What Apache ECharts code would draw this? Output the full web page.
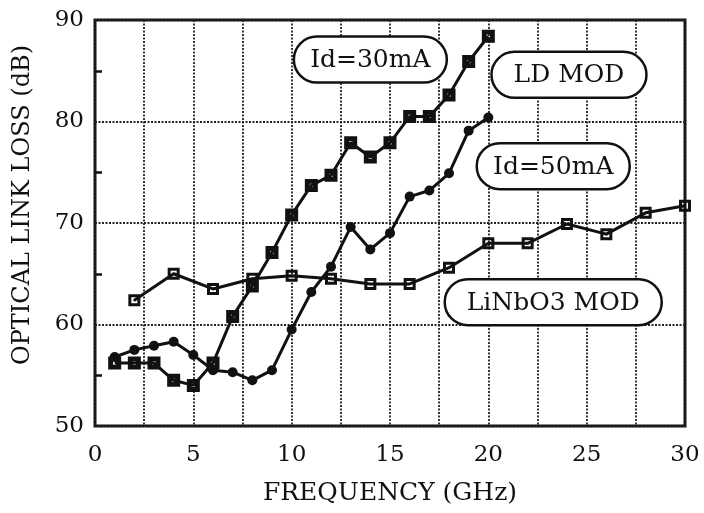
<!DOCTYPE html>
<html>
<head>
<meta charset="utf-8">
<script src="https://cdn.jsdelivr.net/npm/echarts@6/dist/echarts.min.js"></script>
<style>
  html, body { margin: 0; padding: 0; background: #fff; }
  #chart { width: 704px; height: 513px; }
</style>
</head>
<body>
<div id="chart"></div>
<script>
// Optical link loss versus modulation frequency
const freqLD = [1, 2, 3, 4, 5, 6, 7, 8, 9, 10, 11, 12, 13, 14, 15, 16, 17, 18, 19, 20];
const loss30mA = [56.2, 56.2, 56.2, 54.5, 54.0, 56.2, 60.8, 63.8, 67.1, 70.8, 73.7, 74.7, 77.9, 76.5, 77.9, 80.5, 80.5, 82.6, 85.9, 88.4];
const loss50mA = [56.8, 57.5, 57.9, 58.3, 57.0, 55.5, 55.3, 54.5, 55.5, 59.5, 63.2, 65.7, 69.6, 67.4, 69.0, 72.6, 73.2, 74.9, 79.1, 80.4];
const freqLN = [2, 4, 6, 8, 10, 12, 14, 16, 18, 20, 22, 24, 26, 28, 30];
const lossLN = [62.4, 65.0, 63.5, 64.5, 64.8, 64.5, 64.0, 64.0, 65.6, 68.0, 68.0, 69.9, 68.9, 71.0, 71.7];

// Callout labels: text and the data point their pill is centred on
const calloutText = ['Id=30mA', 'LD MOD', 'Id=50mA', 'LiNbO3 MOD'];
const calloutFreq = [14.0, 24.1, 23.3, 23.3];
const calloutLoss = [86.1, 84.6, 75.6, 62.2];

const xTicks = [0, 5, 10, 15, 20, 25, 30];
const yTicks = [50, 60, 70, 80, 90];

const INK = '#111';
const FONT = 'DejaVu Serif';

const zip = (xs, ys) => xs.map((x, i) => [x, ys[i]]);

// Solid square with a small hole; open square with a centre dot
const SQ_SOLID = 'path://M0,0H12V12H0Z M4.5,4.5V7.5H7.5V4.5Z';
const SQ_OPEN = 'path://M0,0H12V12H0Z M3,3V9H9V3Z M5,5H7V7H5Z';

const chart = echarts.init(document.getElementById('chart'), null, { renderer: 'canvas' });

const gridSplit = { show: true, lineStyle: { color: '#222', width: 1.8, type: [2, 1.5] } };

const option = {
  animation: false,
  backgroundColor: '#fff',
  grid: {
    left: 95, top: 20, right: 19, bottom: 87,
    show: true, borderColor: INK, borderWidth: 3, backgroundColor: 'transparent'
  },
  xAxis: {
    type: 'value', min: xTicks[0], max: xTicks[xTicks.length - 1], interval: 5,
    name: 'FREQUENCY (GHz)', nameLocation: 'middle', nameGap: 55,
    nameTextStyle: { fontFamily: FONT, fontSize: 25, color: INK },
    axisLine: { show: false },
    axisTick: { show: false },
    axisLabel: { margin: 18, fontFamily: FONT, fontSize: 23, color: INK },
    splitLine: gridSplit,
    minorTick: { show: false, splitNumber: 2 },
    minorSplitLine: gridSplit
  },
  yAxis: {
    type: 'value', min: yTicks[0], max: yTicks[yTicks.length - 1], interval: 10,
    name: 'OPTICAL LINK LOSS (dB)', nameLocation: 'middle', nameGap: 60,
    nameTextStyle: { fontFamily: FONT, fontSize: 24, color: INK, padding: [0, 0, 0, 36] },
    axisLine: { show: false },
    axisTick: { show: false, inside: true },
    axisLabel: { margin: 11, fontFamily: FONT, fontSize: 23, color: INK },
    splitLine: gridSplit,
    minorTick: { show: true, splitNumber: 2, length: 7, lineStyle: { color: INK, width: 2.5 } }
  },
  series: [
    {
      name: 'LiNbO3 MOD', type: 'line', data: zip(freqLN, lossLN),
      symbol: SQ_OPEN, symbolSize: 12, showAllSymbol: true,
      lineStyle: { color: INK, width: 3 }, itemStyle: { color: INK }
    },
    {
      name: 'Id=50mA', type: 'line', data: zip(freqLD, loss50mA),
      symbol: 'circle', symbolSize: 10, showAllSymbol: true,
      lineStyle: { color: INK, width: 3 }, itemStyle: { color: INK }
    },
    {
      name: 'Id=30mA', type: 'line', data: zip(freqLD, loss30mA),
      symbol: SQ_SOLID, symbolSize: 13, showAllSymbol: true,
      lineStyle: { color: INK, width: 3 }, itemStyle: { color: INK }
    }
  ]
};

chart.setOption(option);

// Pill-shaped callouts positioned in data coordinates
const pillW = [153, 155, 153, 217];
const pillH = 46;
const graphics = calloutText.map((t, i) => {
  const c = chart.convertToPixel({ gridIndex: 0 }, [calloutFreq[i], calloutLoss[i]]);
  return {
    type: 'group', x: c[0], y: c[1], z: 100,
    children: [
      {
        type: 'rect',
        shape: { x: -pillW[i] / 2, y: -pillH / 2, width: pillW[i], height: pillH, r: pillH / 2 },
        style: { fill: '#fff', stroke: INK, lineWidth: 2.5 }
      },
      {
        type: 'text',
        style: { text: t, x: 0, y: 1, align: 'center', verticalAlign: 'middle',
                 font: '25px "' + FONT + '"', fill: INK }
      }
    ]
  };
});
chart.setOption({ graphic: graphics });
</script>
</body>
</html>
